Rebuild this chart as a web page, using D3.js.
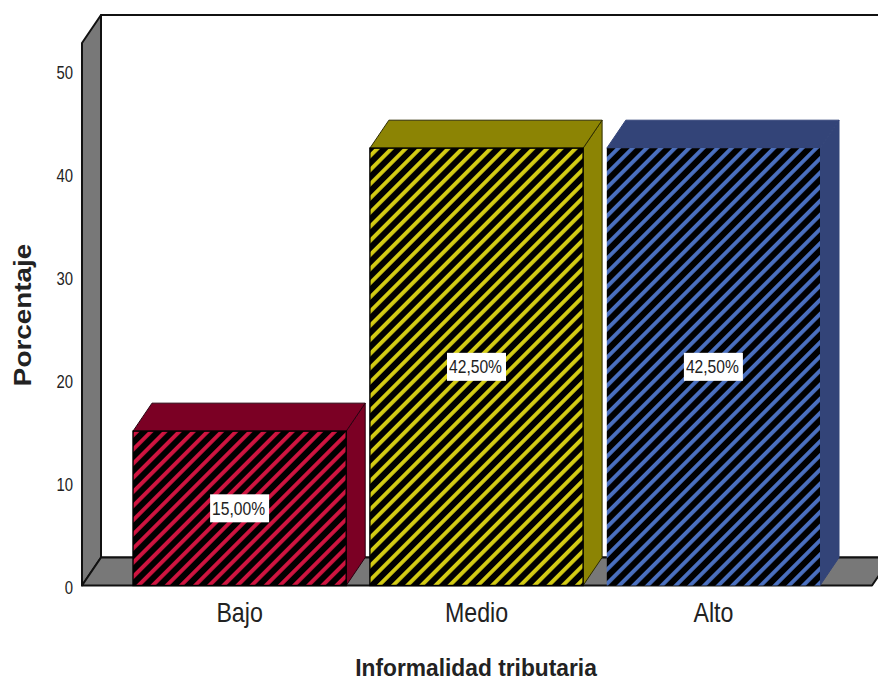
<!DOCTYPE html>
<html>
<head>
<meta charset="utf-8">
<style>
html,body{margin:0;padding:0;background:#fff;overflow:hidden}
svg{display:block}
text{font-family:"Liberation Sans",Arial,sans-serif;fill:#222}
</style>
<script src="https://cdn.jsdelivr.net/npm/d3@7/dist/d3.min.js"></script>
</head>
<body>
<script>
// Frequency table for the "Informalidad tributaria" variable
const categories = ["Bajo", "Medio", "Alto"];
const percentages = [15, 42.5, 42.5];
const valueLabels = ["15,00%", "42,50%", "42,50%"];
const yTicks = [0, 10, 20, 30, 40, 50];
const stripeColors = ["#d01440", "#d4cc14", "#4a70c0"];
const faceColors = ["#7b0024", "#8c8404", "#334478"];
const edgeColors = ["#2a0010", "#2e2c00", "#334478"];

const W = 878, H = 680;
const svg = d3.select("body").append("svg").attr("width", W).attr("height", H);

// Oblique projection offset for the 3D box
const depth = {x: 19, y: -28};
const plot = {left: 82, right: 872, floor: 585.5, top: 43};

const y = d3.scaleLinear().domain([0, 50]).range([plot.floor, 71]);
const x = d3.scaleBand().domain(categories).range([133, 820]).paddingInner(0.1);

const defs = svg.append("defs");
categories.forEach((c, i) => {
  const p = defs.append("pattern")
    .attr("id", "hatch" + i)
    .attr("patternUnits", "userSpaceOnUse")
    .attr("width", 10).attr("height", 10)
    .attr("patternTransform", "rotate(45)");
  p.append("rect").attr("width", 10).attr("height", 10).attr("fill", "#000");
  p.append("rect").attr("width", 3.9).attr("height", 10).attr("fill", stripeColors[i]);
});

const poly = (pts, fill, stroke = "#111", sw = 1.6) => svg.append("polygon")
  .attr("points", pts.map(p => p.join(",")).join(" "))
  .attr("fill", fill).attr("stroke", stroke).attr("stroke-width", sw).attr("stroke-linejoin", "round");

const L = plot.left, R = plot.right, F = plot.floor, T = plot.top;
const dx = depth.x, dy = depth.y;

// Back wall, side wall and floor
poly([[L + dx, T + dy], [W + 20, T + dy], [W + 20, F + dy], [L + dx, F + dy]], "#fff", "#111", 2);
poly([[L, T], [L + dx, T + dy], [L + dx, F + dy], [L, F]], "#787878", "#111", 2);
poly([[L, F], [L + dx, F + dy], [R + dx, F + dy], [R, F]], "#787878", "#111", 2);

// Bars: side, top, then hatched front
categories.forEach((c, i) => {
  const x0 = x(c), x1 = x0 + x.bandwidth(), top = y(percentages[i]);
  poly([[x1, top], [x1 + dx, top + dy], [x1 + dx, F + dy], [x1, F]], faceColors[i], edgeColors[i], 1);
  poly([[x0, top], [x0 + dx, top + dy], [x1 + dx, top + dy], [x1, top]], faceColors[i], edgeColors[i], 1);
  svg.append("rect")
    .attr("x", x0).attr("y", top)
    .attr("width", x.bandwidth()).attr("height", F - top)
    .attr("fill", `url(#hatch${i})`)
    .attr("stroke", i === 2 ? "none" : "#000").attr("stroke-width", 1.4);
});

// Value labels in white boxes at mid-height of each bar
categories.forEach((c, i) => {
  const cx = x(c) + x.bandwidth() / 2, cy = y(percentages[i] / 2);
  svg.append("rect").attr("x", cx - 29.5).attr("y", cy - 14)
    .attr("width", 59).attr("height", 28).attr("fill", "#fff");
  svg.append("text").attr("x", cx - 1).attr("y", cy + 6.5)
    .attr("text-anchor", "middle").attr("font-size", 18)
    .attr("textLength", 53).attr("lengthAdjust", "spacingAndGlyphs")
    .text(valueLabels[i]);
});

// Value axis labels
yTicks.forEach(t => {
  svg.append("text")
    .attr("transform", `translate(73,${y(t) + 8}) scale(0.85,1)`)
    .attr("text-anchor", "end").attr("font-size", 17.5)
    .text(t);
});

// Category labels under the floor
categories.forEach(c => {
  const cx = x(c) + x.bandwidth() / 2;
  svg.append("text")
    .attr("transform", `translate(${cx},622) scale(0.86,1)`)
    .attr("text-anchor", "middle").attr("font-size", 27).text(c);
});

// Axis titles
svg.append("text")
  .attr("transform", "translate(476,675.5) scale(0.93,1)")
  .attr("text-anchor", "middle").attr("font-size", 24.5).attr("font-weight", "bold")
  .text("Informalidad tributaria");
svg.append("text")
  .attr("transform", "translate(31,315) rotate(-90) scale(1.16,1)")
  .attr("text-anchor", "middle").attr("font-size", 24).attr("font-weight", "bold")
  .text("Porcentaje");
</script>
</body>
</html>
